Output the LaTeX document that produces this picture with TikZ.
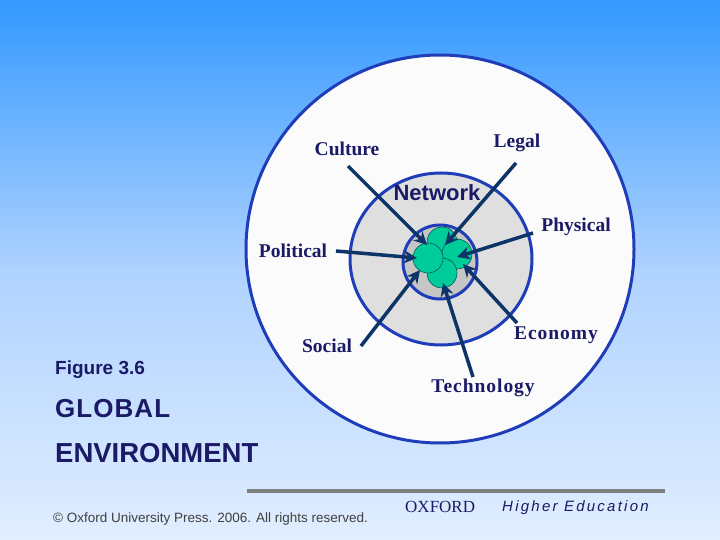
\documentclass[tikz,border=0pt]{standalone}
\usepackage{fontspec}
\setmainfont{Liberation Serif}
\setsansfont{Liberation Sans}
\usetikzlibrary{arrows.meta}
\definecolor{navy}{HTML}{0D3466}
\definecolor{ringblue}{HTML}{1F3DB8}
\definecolor{txtnavy}{HTML}{1A1A66}
\definecolor{grn}{HTML}{00CC99}
\tikzset{
 lab/.style={font=\bfseries\fontsize{19.5}{19.5}\selectfont, text=txtnavy, inner sep=0},
 arr/.style={draw=navy, line width=3.5pt, -{Stealth[length=13pt,width=13pt]}},
 blob/.style={circle, draw=teal!70!black, fill=grn, minimum size=30pt, inner sep=0, line width=0.6pt},
 side/.style={font=\sffamily\bfseries\fontsize{#1}{#1}\selectfont, text=txtnavy, inner sep=0, anchor=west},
}
\begin{document}
\begin{tikzpicture}[x=1pt,y=-1pt]
\shade[top color={rgb,255:red,51;green,153;blue,255}, bottom color={rgb,255:red,225;green,238;blue,255}, middle color={rgb,255:red,175;green,210;blue,255}] (0,0) rectangle (720,540);
\useasboundingbox (0,0) rectangle (720,540);
\filldraw[fill=white!97!gray, draw=ringblue, line width=3pt] (440,249) circle [radius=194];
\filldraw[fill=gray!25, draw=ringblue, line width=3pt] (441,259) ellipse [x radius=91, y radius=86];
\filldraw[fill=gray!45, draw=ringblue, line width=3pt] (440,262) circle [radius=37];
\node[blob] (g1) at (442,242) {};
\node[blob] (g2) at (457,254) {};
\node[blob] (g3) at (442,273) {};
\node[blob] (g4) at (428,258) {};
\node[lab] (cul) at (347,149) {Culture};
\node[lab] (leg) at (517,143) {Legal};
\node[font=\sffamily\bfseries\fontsize{22}{22}\selectfont, text=txtnavy, inner sep=0] (net) at (437,193) {Network};
\node[lab] (phy) at (576,227) {Physical};
\node[lab] (pol) at (293,251) {Political};
\node[lab] (soc) at (327,346) {Social};
\node[lab] (eco) at (556,335) {\addfontfeature{LetterSpace=5}Economy};
\node[lab] (tec) at (483,388) {\addfontfeature{LetterSpace=5}Technology};
\coordinate (c1) at (348,166); \coordinate (t1) at (427,245);
\coordinate (c2) at (516,163); \coordinate (t2) at (445,245);
\coordinate (c3) at (533,233); \coordinate (t3) at (457,257);
\coordinate (c4) at (336,251); \coordinate (t4) at (417,258);
\coordinate (c5) at (361,346); \coordinate (t5) at (420,270);
\coordinate (c6) at (473,377); \coordinate (t6) at (443,283);
\coordinate (c7) at (517,323); \coordinate (t7) at (463,264);
\foreach \i in {1,...,7} \draw[arr] (c\i) -- (t\i);
\node[side=19] (fig) at (55,370) {Figure 3.6};
\node[side=26] (glo) at (55,409) {\addfontfeature{LetterSpace=4}GLOBAL};
\node[side=27.5] (env) at (55,453) {ENVIRONMENT};
\draw[gray, line width=4pt] (247,491) -- (665,491);
\node[font=\sffamily\fontsize{13.5}{13.5}\selectfont, text=black!75, inner sep=0, anchor=west] (cp) at (53,519) {© Oxford University Press. 2006. All rights reserved.};
\node[font=\fontsize{17}{17}\selectfont, text=txtnavy, inner sep=0, anchor=west] (ox) at (405,507) {OXFORD};
\node[font=\sffamily\itshape\fontsize{15}{15}\selectfont, text=txtnavy, inner sep=0, anchor=west] (he) at (502,508) {\addfontfeature{LetterSpace=15}Higher Education};
\end{tikzpicture}
\end{document}
